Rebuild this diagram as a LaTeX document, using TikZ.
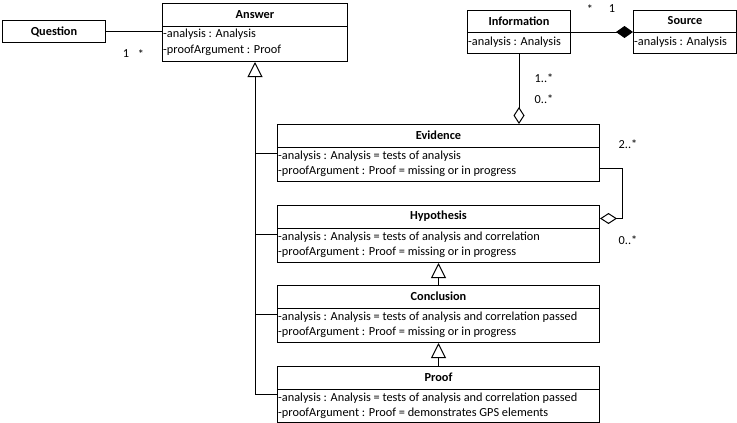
\documentclass[tikz,border=0pt]{standalone}
\usepackage{fontspec}
\setmainfont{Carlito}
\usetikzlibrary{arrows.meta}
\newcommand\umlbox[6]{%
  \node[box, minimum width=#4pt, minimum height=#5pt] (#1) at (#2,#3) {};
  \node[ttl] (#1-t) at ([yshift=-11.5pt]#1.north) {#6};
  \draw[conn] ([yshift=-23pt]#1.north west) -- ([yshift=-23pt]#1.north east);
}
\newcommand\umlattr[3]{%
  \node[attr] (#1-a#2) at ([xshift=1pt,yshift=-#2pt]#1.north west) {#3};
}
\begin{document}
\begin{tikzpicture}[x=1pt,y=-1pt,
  box/.style={draw, line width=1pt, inner sep=0pt, anchor=north west},
  ttl/.style={font=\bfseries\fontsize{12.3}{14}\selectfont, inner sep=0pt},
  attr/.style={font=\fontsize{12.3}{14}\selectfont, inner sep=0pt, anchor=west},
  lbl/.style={font=\fontsize{12.3}{14}\selectfont, inner sep=0pt},
  conn/.style={line width=1pt},
  gen/.style={conn, -{Triangle[open, length=15pt, width=15pt, fill=white]}},
  agg/.style={conn, -{Diamond[open, length=17pt, width=11pt, fill=white]}},
  comp/.style={conn, -{Diamond[length=17pt, width=12pt]}}
]
\useasboundingbox (0,0) rectangle (737,423);
% Question
\node[box, minimum width=103pt, minimum height=22pt] (q) at (2,20) {};
\node[ttl] (q-t) at (q.center) {Question};
% Answer
\umlbox{ans}{162}{3}{185}{58}{Answer}
\umlattr{ans}{31.5}{-analysis : Analysis}
\umlattr{ans}{47}{-proofArgument : Proof}
% Information
\node[box, minimum width=103pt, minimum height=43pt] (inf) at (467,10) {};
\node[ttl] (inf-t) at ([yshift=-11pt]inf.north) {Information};
\draw[conn] ([yshift=-22pt]inf.north west) -- ([yshift=-22pt]inf.north east);
\node[attr] (inf-a) at ([xshift=1pt,yshift=-32pt]inf.north west) {-analysis : Analysis};
% Source
\node[box, minimum width=103pt, minimum height=43pt] (src) at (633,10) {};
\node[ttl] (src-t) at ([yshift=-11pt]src.north) {Source};
\draw[conn] ([yshift=-22pt]src.north west) -- ([yshift=-22pt]src.north east);
\node[attr] (src-a) at ([xshift=1pt,yshift=-32pt]src.north west) {-analysis : Analysis};
% Evidence
\umlbox{ev}{277}{124}{322}{57}{Evidence}
\umlattr{ev}{32}{-analysis : Analysis = tests of analysis}
\umlattr{ev}{47.5}{-proofArgument : Proof = missing or in progress}
% Hypothesis
\umlbox{hy}{277}{205}{322}{57}{Hypothesis}
\umlattr{hy}{32}{-analysis : Analysis = tests of analysis and correlation}
\umlattr{hy}{47.5}{-proofArgument : Proof = missing or in progress}
% Conclusion
\umlbox{co}{277}{285}{322}{57}{Conclusion}
\umlattr{co}{32}{-analysis : Analysis = tests of analysis and correlation passed}
\umlattr{co}{47.5}{-proofArgument : Proof = missing or in progress}
% Proof
\umlbox{pr}{277}{366}{322}{56}{Proof}
\umlattr{pr}{32}{-analysis : Analysis = tests of analysis and correlation passed}
\umlattr{pr}{47.5}{-proofArgument : Proof = demonstrates GPS elements}
% connectors
\draw[conn] (q.east) -- (q.east -| ans.west);
\draw[gen] (pr.west) -| (ans.south);
\draw[conn] (ev.west) -- (ev.west -| ans.south);
\draw[conn] (hy.west) -- (hy.west -| ans.south);
\draw[conn] (co.west) -- (co.west -| ans.south);
\draw[gen] (co.north) -- (hy.south);
\draw[gen] (pr.north) -- (co.south);
\draw[comp] (inf.east) -- (src.west);
\draw[agg] (inf.south) -- (ev.north -| inf.south);
\draw[agg] ([yshift=-15.5pt]ev.east) -- ++(22,0) |- ([yshift=15.5pt]hy.east);
% multiplicities
\node[lbl] (m1) at (126,54) {1};
\node[lbl] (m2) at (141,54) {*};
\node[lbl] (m3) at (590,9) {*};
\node[lbl] (m4) at (612,9) {1};
\node[lbl] (m5) at (544,78) {1..*};
\node[lbl] (m6) at (544,99) {0..*};
\node[lbl] (m7) at (628,144) {2..*};
\node[lbl] (m8) at (628,240) {0..*};
\end{tikzpicture}
\end{document}
